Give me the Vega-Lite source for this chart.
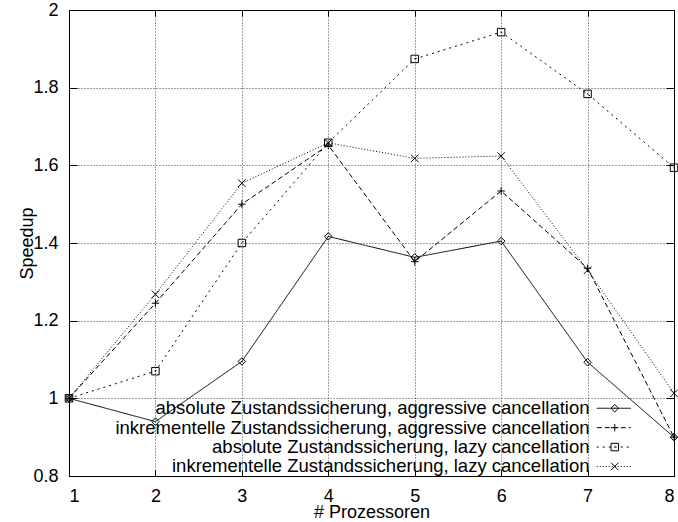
{
  "$schema": "https://vega.github.io/schema/vega-lite/v6.json",
  "width": 605,
  "height": 466,
  "autosize": {"type": "none"},
  "padding": {"left": 69, "top": 10, "right": 4, "bottom": 46},
  "background": "white",
  "config": {
    "font": "Liberation Sans",
    "view": {"stroke": "black", "strokeWidth": 1},
    "axis": {
      "domain": false,
      "labelFont": "Liberation Sans",
      "labelFontSize": 18,
      "labelColor": "black",
      "tickColor": "black",
      "tickWidth": 1,
      "titleFont": "Liberation Sans",
      "titleFontSize": 18,
      "titleFontWeight": "normal",
      "titleColor": "black",
      "gridColor": "black",
      "gridDash": [1, 2],
      "gridOpacity": 0.75,
      "gridWidth": 1
    },
    "legend": {
      "labelFont": "Liberation Sans",
      "labelFontSize": 18.5,
      "labelColor": "black",
      "padding": 0,
      "rowPadding": 0.4
    }
  },
  "data": {
    "values": [
      {"p": 1, "s": "absolute Zustandssicherung, aggressive cancellation", "v": 1.0},
      {"p": 2, "s": "absolute Zustandssicherung, aggressive cancellation", "v": 0.94},
      {"p": 3, "s": "absolute Zustandssicherung, aggressive cancellation", "v": 1.095},
      {"p": 4, "s": "absolute Zustandssicherung, aggressive cancellation", "v": 1.417},
      {"p": 5, "s": "absolute Zustandssicherung, aggressive cancellation", "v": 1.363},
      {"p": 6, "s": "absolute Zustandssicherung, aggressive cancellation", "v": 1.405},
      {"p": 7, "s": "absolute Zustandssicherung, aggressive cancellation", "v": 1.093},
      {"p": 8, "s": "absolute Zustandssicherung, aggressive cancellation", "v": 0.9},
      {"p": 1, "s": "inkrementelle Zustandssicherung, aggressive cancellation", "v": 1.0},
      {"p": 2, "s": "inkrementelle Zustandssicherung, aggressive cancellation", "v": 1.245},
      {"p": 3, "s": "inkrementelle Zustandssicherung, aggressive cancellation", "v": 1.5},
      {"p": 4, "s": "inkrementelle Zustandssicherung, aggressive cancellation", "v": 1.652},
      {"p": 5, "s": "inkrementelle Zustandssicherung, aggressive cancellation", "v": 1.352},
      {"p": 6, "s": "inkrementelle Zustandssicherung, aggressive cancellation", "v": 1.534},
      {"p": 7, "s": "inkrementelle Zustandssicherung, aggressive cancellation", "v": 1.335},
      {"p": 8, "s": "inkrementelle Zustandssicherung, aggressive cancellation", "v": 0.9},
      {"p": 1, "s": "absolute Zustandssicherung, lazy cancellation", "v": 1.0},
      {"p": 2, "s": "absolute Zustandssicherung, lazy cancellation", "v": 1.07},
      {"p": 3, "s": "absolute Zustandssicherung, lazy cancellation", "v": 1.4},
      {"p": 4, "s": "absolute Zustandssicherung, lazy cancellation", "v": 1.658},
      {"p": 5, "s": "absolute Zustandssicherung, lazy cancellation", "v": 1.874},
      {"p": 6, "s": "absolute Zustandssicherung, lazy cancellation", "v": 1.943},
      {"p": 7, "s": "absolute Zustandssicherung, lazy cancellation", "v": 1.784},
      {"p": 8, "s": "absolute Zustandssicherung, lazy cancellation", "v": 1.594},
      {"p": 1, "s": "inkrementelle Zustandssicherung, lazy cancellation", "v": 1.0},
      {"p": 2, "s": "inkrementelle Zustandssicherung, lazy cancellation", "v": 1.268},
      {"p": 3, "s": "inkrementelle Zustandssicherung, lazy cancellation", "v": 1.554},
      {"p": 4, "s": "inkrementelle Zustandssicherung, lazy cancellation", "v": 1.658},
      {"p": 5, "s": "inkrementelle Zustandssicherung, lazy cancellation", "v": 1.618},
      {"p": 6, "s": "inkrementelle Zustandssicherung, lazy cancellation", "v": 1.624},
      {"p": 7, "s": "inkrementelle Zustandssicherung, lazy cancellation", "v": 1.33},
      {"p": 8, "s": "inkrementelle Zustandssicherung, lazy cancellation", "v": 1.013}
    ]
  },
  "layer": [
    {
      "mark": {"type": "line", "color": "black", "strokeWidth": 1},
      "encoding": {
        "x": {
          "field": "p",
          "type": "quantitative",
          "scale": {"domain": [1, 8], "nice": false, "zero": false},
          "axis": {
            "orient": "bottom",
            "values": [1, 2, 3, 4, 5, 6, 7, 8],
            "format": "d",
            "grid": true,
            "tickSize": -6,
            "labelPadding": 17,
            "title": "# Prozessoren",
            "titleX": 302.5,
            "titleY": 41,
            "titleBaseline": "alphabetic",
            "titleAlign": "center"
          }
        },
        "y": {
          "field": "v",
          "type": "quantitative",
          "scale": {"domain": [0.8, 2], "nice": false, "zero": false},
          "axis": {
            "orient": "left",
            "values": [0.8, 1, 1.2, 1.4, 1.6, 1.8, 2],
            "format": "~g",
            "grid": true,
            "tickSize": -8,
            "labelPadding": 19,
            "title": "Speedup",
            "titleAngle": -90,
            "titleX": -42,
            "titleY": 233,
            "titleAlign": "center",
            "titleBaseline": "middle"
          }
        },
        "strokeDash": {
          "field": "s",
          "type": "nominal",
          "scale": {
            "domain": [
              "absolute Zustandssicherung, aggressive cancellation",
              "inkrementelle Zustandssicherung, aggressive cancellation",
              "absolute Zustandssicherung, lazy cancellation",
              "inkrementelle Zustandssicherung, lazy cancellation"
            ],
            "range": [[1, 0], [5, 3], [2, 4], [1, 2]]
          },
          "legend": {
            "orient": "none",
            "legendX": 535.5,
            "legendY": 389,
            "title": null,
            "symbolType": "M-2,0H2",
            "symbolSize": 289,
            "symbolStrokeWidth": 1,
            "symbolStrokeColor": "black",
            "symbolFillColor": "transparent",
            "labelAlign": "right",
            "labelOffset": -33.5,
            "labelLimit": 1000
          }
        }
      }
    },
    {
      "mark": {"type": "point", "color": "black", "strokeWidth": 1, "size": 56, "filled": false, "opacity": 1},
      "encoding": {
        "x": {
          "field": "p",
          "type": "quantitative",
          "axis": {
            "orient": "top",
            "values": [1, 2, 3, 4, 5, 6, 7, 8],
            "labels": false,
            "grid": false,
            "tickSize": -6,
            "title": null
          }
        },
        "y": {
          "field": "v",
          "type": "quantitative",
          "axis": {
            "orient": "right",
            "values": [0.8, 1, 1.2, 1.4, 1.6, 1.8, 2],
            "labels": false,
            "grid": false,
            "tickSize": -8,
            "title": null
          }
        },
        "shape": {
          "field": "s",
          "type": "nominal",
          "sort": [
            "absolute Zustandssicherung, aggressive cancellation",
            "inkrementelle Zustandssicherung, aggressive cancellation",
            "absolute Zustandssicherung, lazy cancellation",
            "inkrementelle Zustandssicherung, lazy cancellation"
          ],
          "scale": {
            "range": [
              "M0,-1L1,0L0,1L-1,0ZM0,-0.15V0.15",
              "M-1,0H1M0,-1V1",
              "M-1,-1H1V1H-1ZM0,-0.15V0.15",
              "M-1,-1L1,1M-1,1L1,-1"
            ]
          },
          "legend": {
            "orient": "none",
            "legendX": 536.5,
            "legendY": 389,
            "title": null,
            "symbolSize": 56,
            "symbolStrokeWidth": 1,
            "symbolStrokeColor": "black",
            "symbolFillColor": "white",
            "labelExpr": "' '",
            "labelOpacity": 0,
            "labelLimit": 1000
          }
        }
      }
    }
  ],
  "resolve": {"axis": {"x": "independent", "y": "independent"}}
}
